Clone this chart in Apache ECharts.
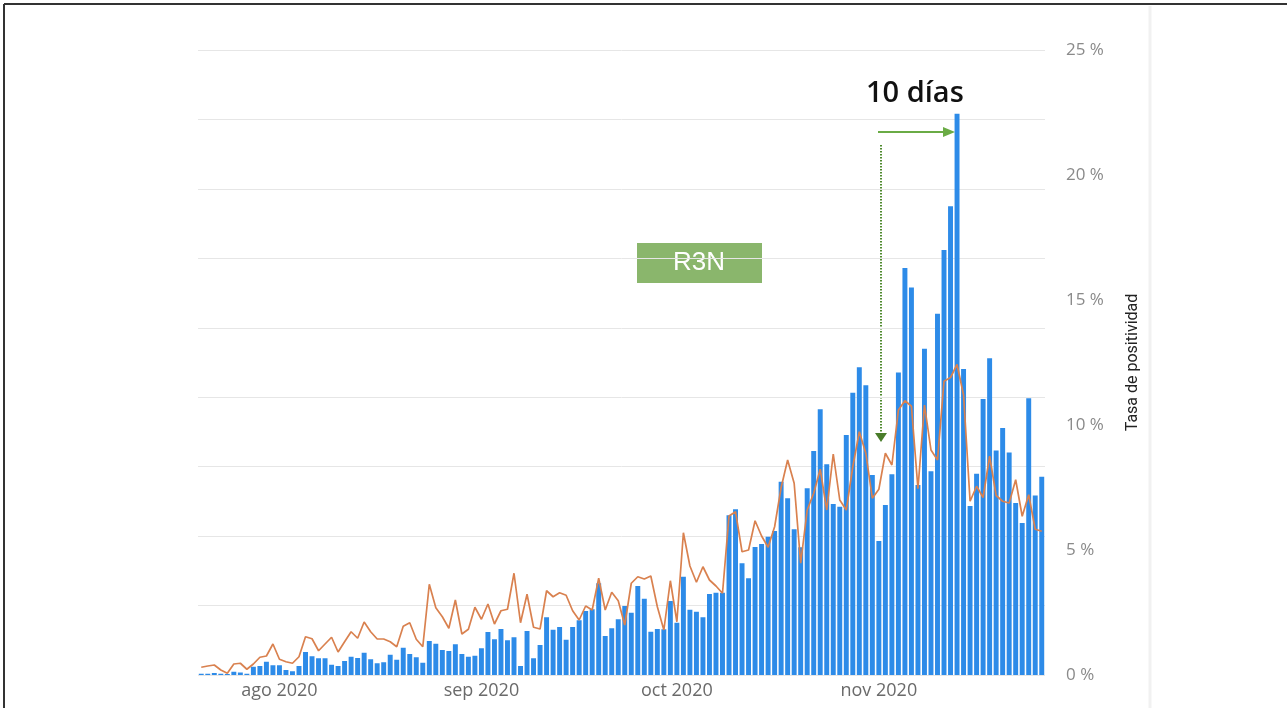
<!DOCTYPE html>
<html>
<head>
<meta charset="utf-8">
<title>Tasa de positividad</title>
<script src="https://cdn.jsdelivr.net/npm/echarts@6/dist/echarts.min.js"></script>
<style>
  html, body { margin: 0; padding: 0; background: #fff; }
  #chart { width: 1287px; height: 708px; }
</style>
</head>
<body>
<div id="chart"></div>
<script>
// 数据
var startDate = '2020-07-20'
var monthNames = ['ene', 'feb', 'mar', 'abr', 'may', 'jun', 'jul', 'ago', 'sep', 'oct', 'nov', 'dic']
var rightTicks = [0, 5, 10, 15, 20, 25]

var barValues = [
  0.05, 0.05, 0.08, 0.05, 0.04, 0.13, 0.10, 0.05, 0.33, 0.36,
  0.53, 0.39, 0.39, 0.20, 0.15, 0.36, 0.92, 0.75, 0.67, 0.67,
  0.41, 0.36, 0.56, 0.73, 0.68, 0.89, 0.63, 0.47, 0.51, 0.81,
  0.61, 1.09, 0.84, 0.71, 0.49, 1.36, 1.25, 1.00, 0.96, 1.23,
  0.84, 0.73, 0.77, 1.07, 1.72, 1.43, 1.84, 1.39, 1.51, 0.36,
  1.76, 0.67, 1.20, 2.31, 1.81, 1.92, 1.41, 1.92, 2.19, 2.56,
  2.63, 3.67, 1.56, 1.87, 2.23, 2.76, 2.49, 3.56, 3.05, 1.73,
  1.84, 1.83, 2.96, 2.09, 3.93, 2.61, 2.53, 2.31, 3.24, 3.29,
  3.29, 6.39, 6.63, 4.47, 3.87, 5.12, 5.24, 5.53, 5.76, 7.73,
  7.07, 5.83, 5.11, 7.47, 8.96, 10.63, 8.43, 6.84, 6.73, 9.60,
  11.29, 12.31, 11.59, 8.00, 5.36, 6.80, 8.03, 12.10, 16.28, 15.50,
  7.60, 13.05, 8.15, 14.45, 17.00, 18.75, 22.45, 12.24, 6.76, 8.05,
  11.04, 12.67, 8.98, 9.88, 8.90, 6.88, 6.08, 11.07, 7.18, 7.93
]

var lineValues = [
  0.31, 0.36, 0.40, 0.20, 0.07, 0.44, 0.47, 0.23, 0.44, 0.71,
  0.76, 1.24, 0.63, 0.53, 0.47, 0.73, 1.53, 1.45, 0.97, 1.24,
  1.51, 0.92, 1.33, 1.73, 1.47, 2.12, 1.73, 1.44, 1.44, 1.33,
  1.13, 1.95, 2.09, 1.43, 1.13, 3.63, 2.69, 2.33, 1.87, 3.00,
  1.64, 1.83, 2.71, 2.23, 2.84, 2.04, 2.57, 2.63, 4.07, 2.09,
  3.23, 1.91, 1.84, 3.37, 3.13, 3.29, 3.19, 2.57, 2.20, 2.76,
  2.60, 3.87, 2.60, 3.31, 2.97, 2.00, 3.67, 3.93, 3.84, 3.96,
  2.73, 1.80, 3.77, 2.13, 5.69, 4.36, 3.71, 4.33, 3.80, 3.56,
  3.27, 6.36, 6.53, 4.93, 5.00, 6.17, 5.56, 5.11, 5.93, 7.50,
  8.60, 7.67, 4.47, 6.60, 7.27, 8.23, 6.60, 8.84, 7.00, 6.60,
  8.33, 9.73, 8.87, 7.07, 7.43, 8.87, 8.40, 10.60, 10.97, 10.75,
  7.45, 10.80, 9.00, 8.60, 11.75, 11.90, 12.42, 11.20, 6.95, 7.55,
  7.10, 8.75, 7.18, 6.95, 6.88, 7.81, 6.35, 7.21, 5.83, 5.75
]

// 日期类目
var categories = []
var d0 = new Date(startDate + 'T00:00:00')
for (var i = 0; i < barValues.length; i++) {
  categories.push(new Date(d0.getFullYear(), d0.getMonth(), d0.getDate() + i))
}
var dateLabels = categories.map(function (d) {
  return d.getFullYear() + '-' + (d.getMonth() + 1) + '-' + d.getDate()
})

var chart = echarts.init(document.getElementById('chart'))

chart.setOption({
  animation: false,
  backgroundColor: '#fff',
  grid: { left: 198, right: 242, top: 50, bottom: 33 },
  xAxis: {
    type: 'category',
    data: dateLabels,
    axisLine: { show: false },
    axisTick: { show: false },
    axisLabel: {
      color: '#6a6a6a',
      fontFamily: 'Open Sans',
      fontSize: 18,
      margin: 7,
      interval: function (idx) { return categories[idx].getDate() === 1 },
      formatter: function (val, idx) {
        var d = categories[idx]
        return monthNames[d.getMonth()] + ' ' + d.getFullYear()
      }
    }
  },
  yAxis: [
    {
      // 只用来画网格
      type: 'value',
      min: 0,
      max: 9,
      interval: 1,
      axisLabel: { show: false },
      axisLine: { show: false },
      axisTick: { show: false },
      splitLine: { lineStyle: { color: '#e6e6e6', width: 1 } }
    },
    {
      type: 'value',
      position: 'right',
      min: rightTicks[0],
      max: rightTicks[rightTicks.length - 1],
      interval: rightTicks[1] - rightTicks[0],
      name: 'Tasa de positividad',
      nameLocation: 'middle',
      nameRotate: 90,
      nameGap: 80,
      nameTextStyle: { color: '#222', fontFamily: 'Roboto', fontSize: 16 },
      axisLine: { show: false },
      axisTick: { show: false },
      splitLine: { show: false },
      axisLabel: {
        color: '#8a8a8a',
        fontFamily: 'Open Sans',
        fontSize: 17,
        margin: 21,
        formatter: '{value} %'
      }
    }
  ],
  series: [
    {
      type: 'bar',
      yAxisIndex: 1,
      data: barValues,
      barCategoryGap: '24%',
      itemStyle: { color: '#2d8be8' }
    },
    {
      type: 'line',
      yAxisIndex: 1,
      data: lineValues,
      symbol: 'none',
      lineStyle: { color: '#d9814f', width: 1.7 }
    }
  ],
  graphic: [
    // 边框
    { type: 'line', shape: { x1: 4, y1: 4, x2: 1287, y2: 4 }, style: { stroke: '#333', lineWidth: 2 } },
    { type: 'line', shape: { x1: 4, y1: 4, x2: 4, y2: 708 }, style: { stroke: '#333', lineWidth: 2 } },
    { type: 'line', shape: { x1: 1150, y1: 6, x2: 1150, y2: 708 }, style: { stroke: '#f1f1f1', lineWidth: 3 } },
    // 标注
    {
      type: 'text', left: 866, top: 79,
      style: { text: '10 días', fill: '#111', font: '600 29px "Open Sans"' }
    },
    { type: 'line', shape: { x1: 878, y1: 132, x2: 946, y2: 132 }, style: { stroke: '#6aab45', lineWidth: 2 } },
    { type: 'polygon', shape: { points: [[943, 127], [955, 132], [943, 137]] }, style: { fill: '#6aab45' } },
    { type: 'line', shape: { x1: 881, y1: 145, x2: 881, y2: 433 }, style: { stroke: '#4f8a2e', lineWidth: 2, lineDash: [1.5, 1.5] } },
    { type: 'polygon', shape: { points: [[875, 433], [887, 433], [881, 442]] }, style: { fill: '#4a7c2a' } },
    { type: 'rect', shape: { x: 637, y: 243, width: 125, height: 40 }, style: { fill: '#8ab66c' } },
    {
      type: 'text', x: 699, y: 263,
      style: { text: 'R3N', fill: '#fff', font: '26px "Liberation Sans"', textAlign: 'center', textVerticalAlign: 'middle' }
    }
  ]
})
</script>
</body>
</html>
